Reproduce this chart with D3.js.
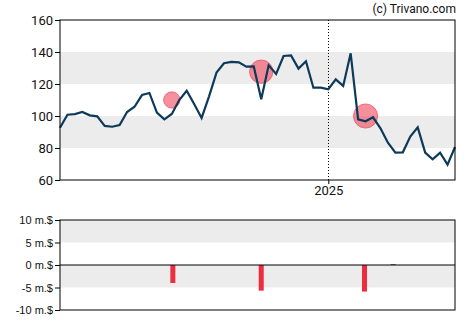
<!DOCTYPE html>
<html><head><meta charset="utf-8">
<script src="https://cdn.jsdelivr.net/npm/d3@7"></script>
<style>body{margin:0;background:#fff}svg{display:block}</style>
</head><body>
<svg id="c" width="470" height="325"></svg>
<script>
const dates = ["2024-04-24","2024-05-01","2024-05-08","2024-05-15","2024-05-22","2024-05-29","2024-06-05","2024-06-12","2024-06-19","2024-06-26",
"2024-07-03","2024-07-10","2024-07-17","2024-07-24","2024-07-31","2024-08-07","2024-08-14","2024-08-21","2024-08-28","2024-09-04",
"2024-09-11","2024-09-18","2024-09-25","2024-10-02","2024-10-09","2024-10-16","2024-10-23","2024-10-30","2024-11-06","2024-11-13",
"2024-11-20","2024-11-27","2024-12-04","2024-12-11","2024-12-18","2024-12-25","2025-01-01","2025-01-08","2025-01-15","2025-01-22",
"2025-01-29","2025-02-05","2025-02-12","2025-02-19","2025-02-26","2025-03-05","2025-03-12","2025-03-19","2025-03-26","2025-04-02",
"2025-04-09","2025-04-16","2025-04-23","2025-04-30"];
const prices = [92.7,100.8,101.2,102.5,100.4,99.8,93.8,93.3,94.4,102.5,
105.8,113.1,114.4,102.1,97.9,101.3,110,115.8,107.5,98.8,
112.3,127.1,133,133.8,133.5,130.8,131,110.4,131.7,126.3,
137.5,137.9,129.6,134.2,117.7,117.7,116.7,122.9,118.8,139.2,
97.9,96.7,99.2,92.3,83.3,77.1,77.3,87.1,92.9,77.1,
72.9,77.1,69.6,80.6];
const eventDates = ["2024-08-07","2024-10-30","2025-02-05"];
const eventPrices = [110,127.7,100];
const eventSizes = [4.0,5.7,5.9];
const flowDates = ["2024-08-08","2024-10-30","2025-02-04","2025-03-03"];
const flowValues = [-4.0,-5.7,-5.9,0.2];
const priceTicks = [60,80,100,120,140,160];
const flowTicks = [-10,-5,0,5,10];
const yearTick = ["2025-01-01"];
const yearLabels = ["2025"];

const parse = d3.utcParse("%Y-%m-%d");
const svg = d3.select("#c");
const L = 60, R = 455;
const x = d3.scaleUtc().domain([parse(dates[0]), parse(dates[dates.length-1])]).range([L, R]);
const y = d3.scaleLinear().domain([60,160]).range([180,20]);
const y2 = d3.scaleLinear().domain([-10,10]).range([310,220]);

[[120,140],[80,100]].forEach(b=>{
  svg.append("rect").attr("x",L).attr("width",R-L).attr("y",y(b[1])).attr("height",y(b[0])-y(b[1])).attr("fill","#ececec");
});
[[5,10],[-5,0]].forEach(b=>{
  svg.append("rect").attr("x",L).attr("width",R-L).attr("y",y2(b[1])).attr("height",y2(b[0])-y2(b[1])).attr("fill","#ececec");
});

yearTick.forEach(t=>{
  const xx = Math.round(x(parse(t)))+0.5;
  svg.append("line").attr("x1",xx).attr("x2",xx).attr("y1",20).attr("y2",180)
    .attr("stroke","#000").attr("stroke-width",1).attr("stroke-dasharray","1,2");
});

const rs = d3.scaleLinear().domain([0,6]).range([0,12.3]);
svg.append("g").selectAll("circle").data(eventDates).join("circle")
  .attr("cx",(d)=>x(parse(d))).attr("cy",(d,i)=>y(eventPrices[i]))
  .attr("r",(d,i)=>rs(eventSizes[i]))
  .attr("fill","rgba(240,70,90,0.6)").attr("stroke","rgba(235,60,80,0.6)").attr("stroke-width",1);

const line = d3.line().x((d,i)=>x(parse(dates[i]))).y(d=>y(d));
svg.append("path").datum(prices).attr("d",line).attr("fill","none")
  .attr("stroke","#0e3a5a").attr("stroke-width",2.2).attr("stroke-linejoin","miter");

svg.append("g").selectAll("rect").data(flowValues).join("rect")
  .attr("x",(d,i)=>x(parse(flowDates[i]))-2.5).attr("width",5)
  .attr("y",d=>d<0?y2(0):y2(d)).attr("height",d=>Math.abs(y2(d)-y2(0)))
  .attr("fill",d=>d<0?"#ee2c40":"#2e8b57");

svg.append("line").attr("x1",L).attr("x2",R).attr("y1",y2(0)).attr("y2",y2(0)).attr("stroke","#000").attr("stroke-width",1);

svg.append("rect").attr("x",L).attr("y",20).attr("width",R-L).attr("height",160).attr("fill","none").attr("stroke","#000").attr("stroke-width",1);
svg.append("rect").attr("x",L).attr("y",220).attr("width",R-L).attr("height",90).attr("fill","none").attr("stroke","#000").attr("stroke-width",1);

const ay = svg.append("g").attr("transform",`translate(${L},0)`)
  .call(d3.axisLeft(y).tickValues(priceTicks).tickSize(5).tickPadding(2));
ay.select(".domain").remove();
ay.selectAll("text").attr("font-family","Roboto, sans-serif").attr("font-size",13).attr("fill","#111");

const ay2 = svg.append("g").attr("transform",`translate(${L},0)`)
  .call(d3.axisLeft(y2).tickValues(flowTicks).tickSize(5).tickPadding(2).tickFormat(d=>d+" m.$"));
ay2.select(".domain").remove();
ay2.selectAll("text").attr("font-family","Liberation Sans, Arial, sans-serif").attr("font-size",11).attr("fill","#111");

const ax = svg.append("g").attr("transform",`translate(0,180)`)
  .call(d3.axisBottom(x).tickValues(yearTick.map(parse)).tickSize(4).tickPadding(2).tickFormat((d,i)=>yearLabels[i]));
ax.select(".domain").remove();
ax.selectAll("text").attr("font-family","Roboto, sans-serif").attr("font-size",13).attr("fill","#111");

svg.append("text").attr("x",456).attr("y",13).attr("text-anchor","end")
  .attr("font-family","Roboto, sans-serif").attr("font-size",12).attr("fill","#111").text("(c) Trivano.com");
</script>
</body></html>
